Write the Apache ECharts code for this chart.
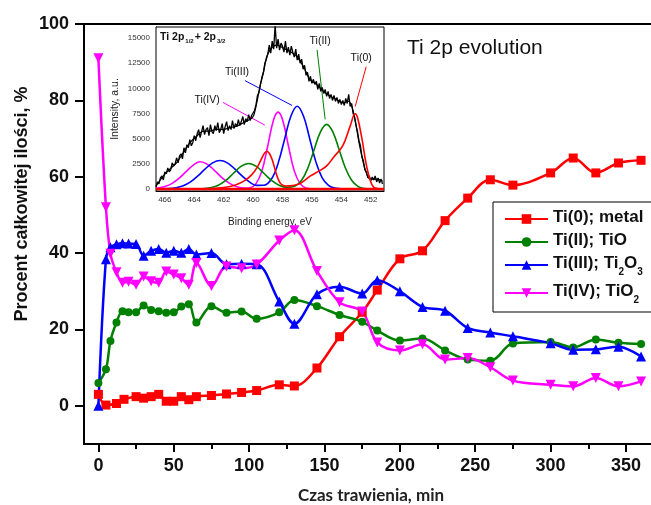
<!DOCTYPE html>
<html><head><meta charset="utf-8">
<script src="https://cdn.jsdelivr.net/npm/echarts@6/dist/echarts.min.js"></script>
<style>html,body{margin:0;padding:0;background:#fff}#c{width:651px;height:505px}</style>
</head><body><div id="c"></div>
<script>
// ---------- main chart data (etching time, min / percent of total) ----------
const timeRed = [0,5,12,17,25,30,35,40,45,50,55,60,65,75,85,95,105,120,130,145,160,175,185,200,215,230,245,260,275,300,315,330,345,360];
const ti0Metal = [3,0.2,0.6,1.7,2.4,2.0,2.4,3.0,1.2,1.2,2.4,1.6,2.4,2.7,3.1,3.5,4.0,5.5,5.2,9.9,18.1,24.5,30.3,38.5,40.6,48.5,54.4,59.2,57.8,61,64.9,61,63.6,64.3];

const timeOx = [0,5,8,12,16,20,25,30,35,40,45,50,55,60,65,75,85,95,105,120,130,145,160,175,185,200,215,230,245,260,275,300,315,330,345,360];
const ti2TiO = [6,9.6,17,21.8,24.8,24.5,24.5,26.3,25.1,24.8,24.4,24.5,26,26.6,21.8,26.1,24.4,24.7,22.8,24.5,27.7,26.1,23.8,22,19.7,17.1,17.6,14.5,12.1,11.8,16.3,16.7,15.3,17.4,16.5,16.2];
const ti3Ti2O3 = [0,38.4,41.5,42.3,42.6,42.5,42.4,39.3,40.6,41.1,40.1,40.6,40.1,41.1,39.6,40,37.1,37.2,37.1,27.3,21.5,29.2,31.2,29.4,32.9,30,25.9,24.9,20.4,19.2,18.2,16.4,14.7,14.8,15.5,12.9];
const ti4TiO2 = [91,52,39.8,35,32.2,32.5,31.7,33.9,32.6,32.2,35.2,34.4,33.4,31.7,37.4,31.4,36.5,36,37,43.3,46,35.3,27.1,24.7,16.6,14.5,16.1,12.1,12.5,10.1,6.6,5.5,5.1,7.3,5.1,6.4];

const xTickLabels = [0,50,100,150,200,250,300,350];
const xMinorTicks = [25,75,125,175,225,275,325];
const yTickLabels = [0,20,40,60,80,100];
const yMinorTicks = [10,30,50,70,90];

// ---------- inset: Ti 2p spectrum (binding energy, eV / intensity, a.u.) ----------
const specBE = [466.6,466.5,466.4,466.3,466.2,466.1,466.0,465.9,465.8,465.7,465.6,465.5,465.4,465.3,465.2,465.1,465.0,464.9,464.8,464.7,464.6,464.5,464.4,464.3,464.2,464.1,464.0,463.9,463.8,463.7,463.6,463.5,463.4,463.3,463.2,463.1,463.0,462.9,462.8,462.7,462.6,462.5,462.4,462.3,462.2,462.1,462.0,461.9,461.8,461.7,461.6,461.5,461.4,461.3,461.2,461.1,461.0,460.9,460.8,460.7,460.6,460.5,460.4,460.3,460.2,460.1,460.0,459.9,459.8,459.7,459.6,459.5,459.4,459.3,459.2,459.1,459.0,458.9,458.8,458.7,458.6,458.5,458.4,458.3,458.2,458.1,458.0,457.9,457.8,457.7,457.6,457.5,457.4,457.3,457.2,457.1,457.0,456.9,456.8,456.7,456.6,456.5,456.4,456.3,456.2,456.1,456.0,455.9,455.8,455.7,455.6,455.5,455.4,455.3,455.2,455.1,455.0,454.9,454.8,454.7,454.6,454.5,454.4,454.3,454.2,454.1,454.0,453.9,453.8,453.7,453.6,453.5,453.4,453.3,453.2,453.1,453.0,452.9,452.8,452.7,452.6,452.5,452.4,452.3,452.2,452.1,452.0,451.9,451.8,451.7,451.6,451.5,451.4,451.3,451.2];
const specInt = [200,700,500,1100,1300,900,1700,1500,2100,1700,1900,2600,2300,2500,3100,2600,3300,3500,3000,4100,3600,4400,4100,4900,4300,4600,5300,4800,5500,5900,5100,5700,6300,5400,5900,6100,5300,6400,5700,5500,6300,5800,6600,5600,5900,6500,5500,6200,6700,5800,6300,5900,6800,6000,6500,6200,6900,6300,6700,7200,6400,7000,6700,7400,6800,7300,7200,7800,8400,9300,9600,10400,11100,11600,12500,12900,13400,14300,13500,14700,13900,16300,14000,14900,13800,14500,14200,13600,14700,13500,14100,13300,14200,13600,13100,13900,12800,13400,12500,12900,11900,12300,11300,11600,10700,11200,10500,10900,10400,10700,9900,10500,9700,10100,9500,9900,9200,9700,9000,9400,8800,9300,8700,9100,8500,8900,8400,8800,8300,9000,8500,9400,8200,8500,7500,7100,6300,5700,4800,4300,3200,2800,1900,1700,1100,1300,800,1200,900,1300,700,1100,600,1000,500];
const envBE  = [466.6,466.1,465.65,465.19,464.74,464.29,463.83,463.38,462.93,462.47,462.02,461.57,461.11,460.66,460.21,459.98,459.75,459.53,459.3,459.07,458.84,458.62,458.39,457.94,457.48,457.03,456.58,456.12,455.67,455.22,454.76,454.31,453.86,453.52,453.29,453.07,452.84,452.61,452.39,452.05,451.6,451.2];
const envInt = [300,1300,2000,2630,3620,4610,5270,5760,5760,5930,5930,6090,6250,6590,6920,7240,8560,10200,11530,13170,13830,14160,14330,14000,13660,13170,12180,10870,10370,9710,9220,8890,8560,8720,8230,6920,4940,3290,1980,990,990,800];

const fitIV_BE  = [466.6,466.0,465.5,465.0,464.5,464.0,463.6,463.1,462.6,462.1,461.6,461.1,460.6,460.2,459.8,459.4,459.0,458.6,458.3,458.0,457.6,457.2,456.8,456.4,456.0,455.4,451.1];
const fitIV_Int = [60,250,560,1100,1800,2450,2700,2450,1800,1100,560,220,90,130,530,1800,4300,6900,7640,6900,4300,1800,530,100,20,0,0];
const fitIII_BE  = [466.6,465.75,465.25,464.75,464.25,463.75,463.25,462.75,462.25,461.75,461.25,460.75,460.25,459.75,459.25,458.7,458.275,457.85,457.425,457.0,456.575,456.15,455.725,455.3,454.875,454.45,453.8,451.1];
const fitIII_Int = [10,40,125,320,700,1300,2000,2600,2830,2600,2000,1300,700,360,375,1110,2670,5000,7260,8230,7260,5000,2670,1110,360,90,5,0];
const fitII_BE  = [466.6,463.45,462.925,462.4,461.875,461.35,460.825,460.3,459.775,459.25,458.725,458.2,457.675,457.15,456.7,456.275,455.85,455.425,455.0,454.575,454.15,453.725,453.3,452.875,452.45,451.9,451.1];
const fitII_Int = [0,28,112,343,825,1540,2240,2540,2240,1540,825,343,157,290,867,2090,3900,5660,6420,5660,3900,2090,867,263,45,0,0];
const fit0_BE  = [466.6,463.0,462.0,461.2,460.6,460.1,459.7,459.4,459.2,459.07,458.9,458.7,458.5,458.3,458.1,457.8,457.3,456.8,456.1,455.5,455.0,454.5,453.9,453.4,453.06,452.9,452.6,452.3,452.0,451.7,451.1];
const fit0_Int = [0,30,150,400,800,1400,2200,3100,3600,3720,3550,2900,1900,1000,500,300,350,550,1300,1800,2300,3200,4300,6250,7480,7100,5000,2400,700,100,0];
const baseBE = [466.6,451.1];
const baseInt = [0,0];

const insetXLabels = [452,454,456,458,460,462,464,466];
const insetYLabels = [0,2500,5000,7500,10000,12500,15000];

const zip = (a,b) => a.map((v,i) => [v,b[i]]);

const FONT = 'Liberation Sans, Arial, sans-serif';
const chart = echarts.init(document.getElementById('c'), null, {renderer:'canvas'});

const legendMap = {
  'Ti(0); metal':'{n|Ti(0); metal}',
  'Ti(II); TiO':'{n|Ti(II); TiO}',
  'Ti(III); Ti2O3':'{n|Ti(III); Ti}{s|2}{n|O}{s|3}',
  'Ti(IV); TiO2':'{n|Ti(IV); TiO}{s|2}'
};

function mainSeries(name, xs, ys, color, symbol, size, rot){
  return {name, type:'line', xAxisIndex:0, yAxisIndex:0, data:zip(xs,ys), smooth:0.35,
    symbol, symbolSize:size, symbolRotate:rot||0, showSymbol:true,
    lineStyle:{width:2.5,color}, itemStyle:{color}, z:3};
}
function insetSeries(name, xs, ys, color, width, extra){
  return Object.assign({name, type:'line', xAxisIndex:3, yAxisIndex:2, data:zip(xs,ys),
    showSymbol:false, symbol:'none', lineStyle:{width, color}, itemStyle:{color}, z:5, silent:true}, extra||{});
}
function arrow(color, a, b){
  return {silent:true, symbol:['none','arrow'], symbolSize:[0,7], lineStyle:{color, width:1, type:'solid'},
    label:{show:false}, data:[[{coord:a},{coord:b}]]};
}
function tag(text, at){
  return {silent:true, symbol:'rect', symbolSize:1, itemStyle:{color:'rgba(0,0,0,0)'},
    label:{show:true, position:'inside', formatter:text, color:'#111', fontSize:10.5, fontFamily:FONT},
    data:[{coord:at}]};
}

const option = {
  animation:false,
  backgroundColor:'#fff',
  title:{text:'Ti 2p evolution', left:402, top:33, textStyle:{fontFamily:FONT, fontSize:21, fontWeight:'normal', color:'#111'}},
  legend:{
    data:['Ti(0); metal','Ti(II); TiO','Ti(III); Ti2O3','Ti(IV); TiO2'],
    orient:'vertical', left:493, top:202, itemWidth:43, itemHeight:12, itemGap:6,
    padding:[7,30,7,11], borderColor:'#000', borderWidth:1, backgroundColor:'#fff',
    formatter:n => legendMap[n],
    textStyle:{rich:{
      n:{fontFamily:FONT, fontSize:17, fontWeight:'bold', color:'#111', verticalAlign:'top', lineHeight:20},
      s:{fontFamily:FONT, fontSize:10, fontWeight:'bold', color:'#111', verticalAlign:'top', padding:[12,0,0,0], lineHeight:10}
    }}
  },
  grid:[
    {left:84, top:24, right:0, bottom:61, containLabel:false},
    {left:156, top:27, width:228, height:164, show:true, backgroundColor:'#fff', borderColor:'#000', borderWidth:1, z:4}
  ],
  xAxis:[
    {type:'value', gridIndex:0, min:-9.55, max:366.6, position:'bottom',
      axisLine:{show:true, onZero:false, lineStyle:{color:'#000', width:2}},
      axisTick:{show:true, customValues:xTickLabels, length:8, lineStyle:{width:2, color:'#000'}},
      axisLabel:{show:true, customValues:xTickLabels, margin:13, fontFamily:FONT, fontSize:18, fontWeight:'bold', color:'#111'},
      splitLine:{show:false}},
    {type:'value', gridIndex:0, min:-9.55, max:366.6, position:'bottom',
      axisLine:{show:false, onZero:false}, axisLabel:{show:false},
      axisTick:{show:true, customValues:xMinorTicks, length:5, lineStyle:{width:2, color:'#000'}}, splitLine:{show:false}},
    {type:'value', gridIndex:0, min:-9.55, max:366.6, position:'top',
      axisLine:{show:true, onZero:false, lineStyle:{color:'#000', width:2}}, axisLabel:{show:false},
      axisTick:{show:false}, splitLine:{show:false}},
    {type:'value', gridIndex:1, inverse:true, min:451.1, max:466.6, position:'bottom',
      axisLine:{show:true, onZero:false, lineStyle:{color:'#000', width:1}},
      axisTick:{show:true, inside:true, length:3, customValues:insetXLabels, lineStyle:{color:'#000'}},
      axisLabel:{show:true, customValues:insetXLabels, margin:5, fontFamily:FONT, fontSize:8, color:'#333', formatter:v => String(v)},
      name:'Binding energy, eV', nameLocation:'middle', nameGap:26,
      nameTextStyle:{fontFamily:FONT, fontSize:10, color:'#222'},
      splitLine:{show:false}}
  ],
  yAxis:[
    {type:'value', gridIndex:0, min:-10, max:100,
      axisLine:{show:true, onZero:false, lineStyle:{color:'#000', width:2}},
      axisTick:{show:true, customValues:yTickLabels, length:9, lineStyle:{width:2, color:'#000'}},
      axisLabel:{show:true, customValues:yTickLabels, margin:15, fontFamily:FONT, fontSize:18, fontWeight:'bold', color:'#111'},
      splitLine:{show:false}},
    {type:'value', gridIndex:0, min:-10, max:100,
      axisLine:{show:false, onZero:false}, axisLabel:{show:false},
      axisTick:{show:true, customValues:yMinorTicks, length:5, lineStyle:{width:2, color:'#000'}}, splitLine:{show:false}},
    {type:'value', gridIndex:1, min:-200, max:16100,
      axisLine:{show:true, onZero:false, lineStyle:{color:'#000', width:1}},
      axisTick:{show:true, inside:true, length:3, customValues:insetYLabels, lineStyle:{color:'#000'}},
      axisLabel:{show:true, customValues:insetYLabels, margin:6, fontFamily:FONT, fontSize:8, color:'#333', formatter:v => String(v)},
      name:'Intensity, a.u.', nameLocation:'middle', nameGap:35, nameRotate:90,
      nameTextStyle:{fontFamily:FONT, fontSize:10.5, color:'#222'},
      splitLine:{show:false}}
  ],
  graphic:[
    {type:'text', x:22, y:204, rotation:Math.PI/2, z:10,
      style:{text:'Procent całkowitej ilości, %', font:'bold 18px Liberation Sans, Arial, sans-serif', fill:'#111', align:'center', verticalAlign:'middle'}},
    {type:'text', x:371, y:496, z:10,
      style:{text:'Czas trawienia, min', font:'bold 17px Lato, sans-serif', fill:'#222', align:'center', verticalAlign:'middle'}},
    {type:'text', x:160, y:32, z:20,
      style:{text:'{b|Ti 2p}{s|1/2}{b|+ 2p}{s|3/2}', rich:{
        b:{font:'bold 10.5px Liberation Sans, Arial, sans-serif', fill:'#111', verticalAlign:'top', lineHeight:12},
        s:{font:'bold 6px Liberation Sans, Arial, sans-serif', fill:'#111', verticalAlign:'top', padding:[6,1,0,1], lineHeight:6}}}}
  ],
  series:[
    mainSeries('Ti(0); metal', timeRed, ti0Metal, '#FF0000', 'rect', 9),
    mainSeries('Ti(II); TiO', timeOx, ti2TiO, '#008000', 'circle', 8),
    mainSeries('Ti(III); Ti2O3', timeOx, ti3Ti2O3, '#0000FF', 'triangle', 10),
    mainSeries('Ti(IV); TiO2', timeOx, ti4TiO2, '#FF00FF', 'triangle', 10, 180),
    insetSeries('spectrum', specBE, specInt, '#000', 1.3),
    insetSeries('envelope', envBE, envInt, '#000', 1.2, {smooth:0.3}),
    insetSeries('fit IV', fitIV_BE, fitIV_Int, '#FF00FF', 1.6, {smooth:0.4,
      markLine:arrow('#FF00FF',[462.04,8600],[459.2,6350]), markPoint:tag('Ti(IV)',[463.13,8800])}),
    insetSeries('fit III', fitIII_BE, fitIII_Int, '#0000FF', 1.6, {smooth:0.4,
      markLine:arrow('#0000FF',[460.55,10770],[457.35,8300]), markPoint:tag('Ti(III)',[461.09,11660])}),
    insetSeries('fit II', fitII_BE, fitII_Int, '#008000', 1.6, {smooth:0.4,
      markLine:arrow('#008000',[455.65,13830],[455.1,6920]), markPoint:tag('Ti(II)',[455.44,14720])}),
    insetSeries('fit 0', fit0_BE, fit0_Int, '#FF0000', 1.6, {smooth:0.4,
      markLine:arrow('#FF0000',[452.31,12150],[453.06,8200]), markPoint:tag('Ti(0)',[452.65,13040])}),
    insetSeries('base', baseBE, baseInt, '#FF0000', 2.5)
  ]
};
chart.setOption(option);
</script>
</body></html>
